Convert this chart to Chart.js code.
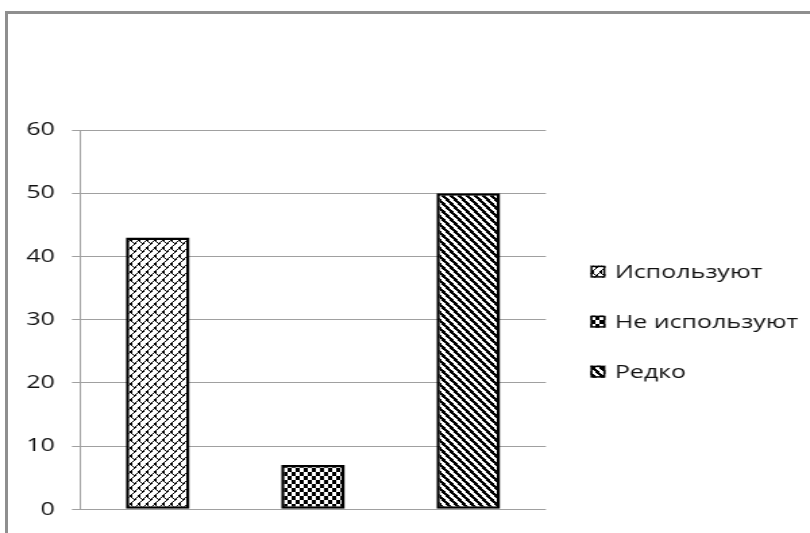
<!DOCTYPE html>
<html>
<head>
<meta charset="utf-8">
<script src="https://cdn.jsdelivr.net/npm/chart.js@4/dist/chart.umd.min.js"></script>
<style>
  html, body { margin: 0; padding: 0; background: #fff; overflow: hidden; width: 810px; height: 533px; }
  #wrap { position: absolute; left: 0; top: 0; width: 600px; height: 533px; transform: scaleX(1.35); transform-origin: 0 0; }
  #frame { position: absolute; left: 5px; top: 11px; width: 900px; height: 700px; box-sizing: border-box;
           border-top: 3px solid #8f8f8f; border-left: 3px solid #8f8f8f; pointer-events: none; }
</style>
</head>
<body>
<div id="wrap"><canvas id="c" width="600" height="533"></canvas></div>
<div id="frame"></div>
<script>
// Survey answers
const categories = ['Используют', 'Не используют', 'Редко'];
const values = [43, 7, 50];
const yTicks = [0, 10, 20, 30, 40, 50, 60];

const FONT = '"Open Sans", "Noto Sans", sans-serif';
const FONT_SIZE = 18.5;

// Build a black/white fill tile from a pixel rule (u, v in display pixels)
function makePattern(w, h, rule) {
  const t = document.createElement('canvas');
  t.width = w; t.height = h;
  const c = t.getContext('2d');
  const img = c.createImageData(w, h);
  for (let y = 0; y < h; y++) {
    for (let x = 0; x < w; x++) {
      const black = rule(x, y);
      const i = (y * w + x) * 4;
      const v = black ? 0 : 255;
      img.data[i] = img.data[i + 1] = img.data[i + 2] = v;
      img.data[i + 3] = 255;
    }
  }
  c.putImageData(img, 0, 0);
  return document.getElementById('c').getContext('2d').createPattern(t, 'repeat');
}
const mod = (a, n) => ((a % n) + n) % n;

// diagonal brick: "/" rows with staggered "\" joints
const brick = makePattern(12, 16, (x, y) => {
  const u = (x + 0.5) * 16 / 12, v = y + 0.5;
  const p = u + v, q = u - v;
  if (mod(p, 8) < 1.6) return true;
  const band = Math.floor(mod(p, 16) / 8);
  return mod(q + band * 8, 16) < 1.6;
});
// small checkerboard
const checker = makePattern(6, 8, (x, y) => ((Math.floor(x / 3) + Math.floor(y / 4)) % 2) === 0);
// wide downward diagonal stripes
const stripes = makePattern(6, 8, (x, y) => {
  const u = (x + 0.5) * 8 / 6, v = y + 0.5;
  return mod(u - v, 8) < 4;
});
const fills = [brick, checker, stripes];

const sideLegend = {
  id: 'sideLegend',
  afterDraw(chart) {
    const ctx = chart.ctx;
    const a = chart.chartArea;
    const x0 = a.right + 33;
    const mid = (a.top + a.bottom) / 2 + 2;
    const gap = 50;
    ctx.save();
    ctx.font = FONT_SIZE + 'px ' + FONT;
    ctx.textBaseline = 'middle';
    ctx.textAlign = 'left';
    categories.forEach((name, i) => {
      const cy = mid + (i - 1) * gap;
      ctx.fillStyle = fills[i];
      ctx.fillRect(x0, cy - 6, 11, 12);
      ctx.strokeStyle = '#000';
      ctx.lineWidth = 1.5;
      ctx.strokeRect(x0 + 0.75, cy - 5.25, 9.5, 10.5);
      ctx.fillStyle = '#111';
      ctx.fillText(name, x0 + 18, cy + 1);
    });
    ctx.restore();
  }
};

new Chart(document.getElementById('c'), {
  type: 'bar',
  data: {
    labels: categories,
    datasets: [{
      data: values,
      backgroundColor: fills,
      borderColor: '#000',
      borderWidth: 2.5,
      borderSkipped: false,
      barPercentage: 0.41,
      categoryPercentage: 1
    }]
  },
  options: {
    responsive: false,
    animation: false,
    devicePixelRatio: 1,
    layout: { padding: { top: 130, bottom: 23, left: 0, right: 195.6 } },
    plugins: { legend: { display: false }, tooltip: { enabled: false } },
    scales: {
      x: { display: false },
      y: {
        min: 0, max: 60,
        afterBuildTicks(scale) { scale.ticks = yTicks.map(v => ({ value: v })); },
        afterFit(scale) { scale.width = 59.3; },
        ticks: { color: '#111', font: { family: FONT, size: FONT_SIZE }, padding: 12.6 },
        grid: { color: '#a0a0a0', lineWidth: 1, tickLength: 6, drawTicks: true },
        border: { display: true, color: '#a0a0a0', width: 1 }
      }
    }
  },
  plugins: [sideLegend]
});
</script>
</body>
</html>
